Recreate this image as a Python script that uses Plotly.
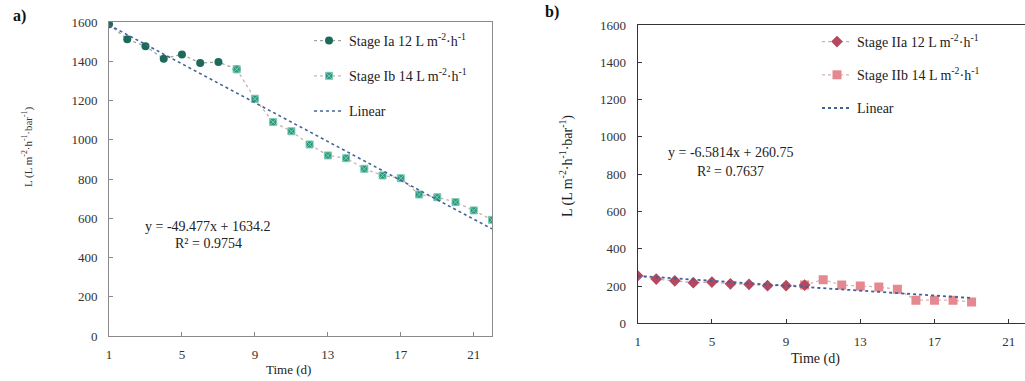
import plotly.graph_objects as go

W, H = 1025, 381

# ---------------- data ----------------
days_ia = [1, 2, 3, 4, 5, 6, 7, 8]
L_ia = [1588, 1512, 1476, 1413, 1435, 1391, 1396, 1359]
days_ib = [8, 9, 10, 11, 12, 13, 14, 15, 16, 17, 18, 19, 20, 21, 22]
L_ib = [1359, 1209, 1090, 1043, 976, 920, 906, 852, 818, 804, 721, 707, 682, 640, 592]

days_iia = [1, 2, 3, 4, 5, 6, 7, 8, 9, 10]
L_iia = [255, 237, 228, 218, 221, 212, 209, 202, 202, 205]
days_iib = [10, 11, 12, 13, 14, 15, 16, 17, 18, 19]
L_iib = [205, 234, 205, 200, 195, 182, 124, 124, 124, 114]

fit_a = (-49.477, 1634.2, 0.9754)
fit_b = (-6.5814, 260.75, 0.7637)
x_ticks = [1, 5, 9, 13, 17, 21]
y_ticks = [0, 200, 400, 600, 800, 1000, 1200, 1400, 1600]

SERIF = '"Liberation Serif", "Times New Roman", serif'


def pxx(x):
    return x / W


def pxy(y):
    return 1 - y / H


fig = go.Figure()

# -------- panel a --------
xa = [min(days_ia), max(days_ib)]
fig.add_trace(go.Scatter(
    x=days_ia, y=L_ia, mode="lines+markers", name="Stage Ia 12 L m<sup>-2</sup>·h<sup>-1</sup>",
    line=dict(color="#9aa6a2", width=1.3, dash="dot"),
    marker=dict(symbol="circle", size=8, color="#1d6a5a"),
    xaxis="x", yaxis="y", legend="legend", legendgroup="a1"))
fig.add_trace(go.Scatter(
    x=days_ib, y=L_ib, mode="lines+markers", name="Stage Ib 14 L m<sup>-2</sup>·h<sup>-1</sup>",
    line=dict(color="#c9b3b3", width=1.3, dash="dot"),
    marker=dict(symbol="square-x", size=7, color="#2a977d", line=dict(color="#7ccdb4", width=1)),
    xaxis="x", yaxis="y", legend="legend", legendgroup="a2"))
fig.add_trace(go.Scatter(
    x=xa, y=[fit_a[0] * v + fit_a[1] for v in xa], mode="lines", name="Linear",
    line=dict(color="#45649a", width=1.6, dash="dot"),
    xaxis="x", yaxis="y", legend="legend", legendgroup="a3"))

# -------- panel b --------
xb = [min(days_iia), max(days_iib)]
fig.add_trace(go.Scatter(
    x=days_iib, y=L_iib, mode="lines+markers", name="Stage IIb 14 L m<sup>-2</sup>·h<sup>-1</sup>",
    line=dict(color="#d9b2b4", width=1.3, dash="dot"),
    marker=dict(symbol="square", size=9, color="#e4898f"),
    xaxis="x2", yaxis="y2", legend="legend2", legendgroup="b2", legendrank=2))
fig.add_trace(go.Scatter(
    x=days_iia, y=L_iia, mode="lines+markers", name="Stage IIa 12 L m<sup>-2</sup>·h<sup>-1</sup>",
    line=dict(color="#d2a7ae", width=1.3, dash="dot"),
    marker=dict(symbol="diamond", size=9, color="#b4485e"),
    xaxis="x2", yaxis="y2", legend="legend2", legendgroup="b1", legendrank=1))
fig.add_trace(go.Scatter(
    x=xb, y=[fit_b[0] * v + fit_b[1] for v in xb], mode="lines", name="Linear",
    line=dict(color="#40609a", width=1.8, dash="dot"),
    xaxis="x2", yaxis="y2", legend="legend2", legendgroup="b3", legendrank=3))

axis_common = dict(
    showgrid=False, zeroline=False, ticks="inside", ticklen=4,
    mirror=True, showline=True, automargin=False,
    tickfont=dict(family=SERIF, size=13, color="#333"),
)

fig.update_layout(
    width=W, height=H, margin=dict(l=0, r=0, t=0, b=0, autoexpand=False),
    paper_bgcolor="white", plot_bgcolor="white",
    font=dict(family=SERIF, size=13, color="#222"),
    xaxis=dict(axis_common, domain=[pxx(109), pxx(492)], range=[1, 22], tickvals=x_ticks,
               linecolor="#8a8a8a", tickcolor="#8a8a8a", anchor="y", ticklabelstandoff=6),
    yaxis=dict(axis_common, domain=[pxy(336), pxy(22)], range=[0, 1600], tickvals=y_ticks,
               linecolor="#8a8a8a", tickcolor="#8a8a8a", anchor="x", ticklabelstandoff=8),
    xaxis2=dict(axis_common, domain=[pxx(637.7), 1.0], range=[1, 21.88], tickvals=x_ticks,
                linecolor="#333", tickcolor="#333", anchor="y2", ticklabelstandoff=6),
    yaxis2=dict(axis_common, domain=[pxy(323.3), pxy(25)], range=[0, 1600], tickvals=y_ticks,
                linecolor="#333", tickcolor="#333", anchor="x2", ticklabelstandoff=8),
    legend=dict(x=pxx(309), y=pxy(25), xanchor="left", yanchor="top",
                bgcolor="rgba(0,0,0,0)", font=dict(family=SERIF, size=14, color="#222"),
                tracegroupgap=14, itemwidth=30),
    legend2=dict(x=pxx(817), y=pxy(26), xanchor="left", yanchor="top",
                 bgcolor="rgba(0,0,0,0)", font=dict(family=SERIF, size=14, color="#222"),
                 tracegroupgap=12, itemwidth=30),
    showlegend=True,
)


def note(text, x, y, size=14, color="#222", angle=0):
    return dict(text=text, x=pxx(x), y=pxy(y), xref="paper", yref="paper",
                xanchor="center", yanchor="middle", showarrow=False, textangle=angle,
                font=dict(family=SERIF, size=size, color=color))


ann = [
    note("<b>a)</b>", 19, 16, size=16, color="#111"),
    note("<b>b)</b>", 552, 12, size=16, color="#111"),
    note(f"y = {fit_a[0]}x + {fit_a[1]}", 207, 226),
    note(f"R² = {fit_a[2]}", 208, 243),
    note(f"y = {fit_b[0]}x + {fit_b[1]}", 730, 153),
    note(f"R² = {fit_b[2]}", 730, 172),
    note("Time (d)", 288, 369, size=13),
    note("Time (d)", 815, 359, size=14),
    note("L (L m<sup>-2</sup>·h<sup>-1</sup>·bar<sup>-1</sup>)", 27, 147, size=11, color="#333", angle=-90),
    note("L (L m<sup>-2</sup>·h<sup>-1</sup>·bar<sup>-1</sup>)", 566, 166, size=14, angle=-90),
]
fig.update_layout(annotations=ann)

fig.write_html("out.html")
